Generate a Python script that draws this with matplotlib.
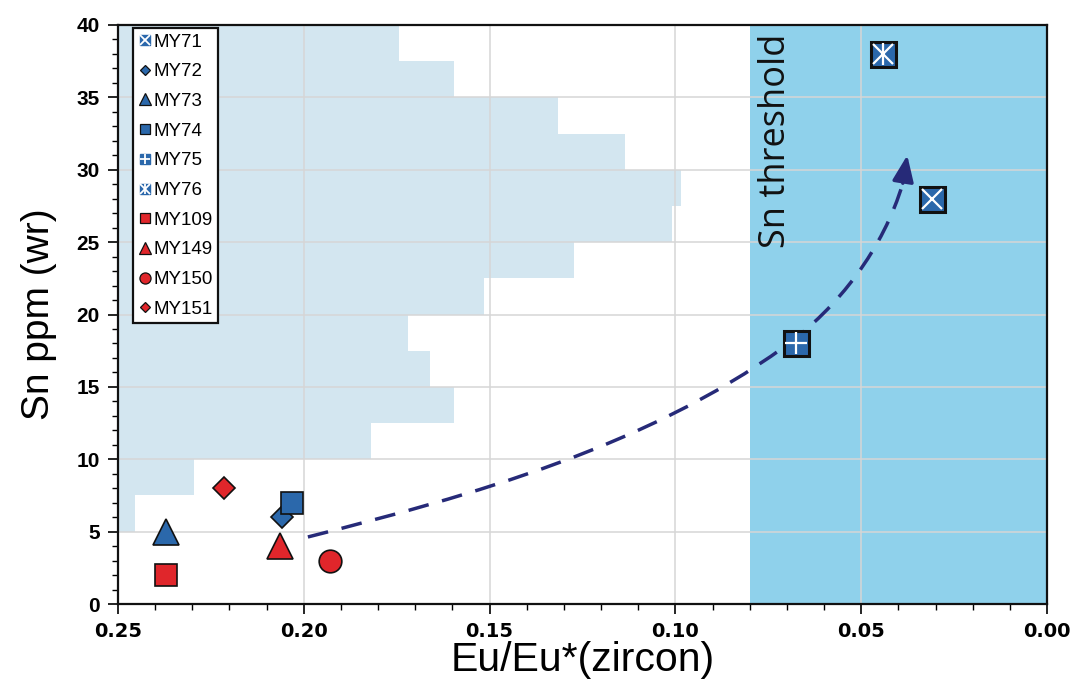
import numpy as np
import matplotlib
matplotlib.use("Agg")
import matplotlib.pyplot as plt
from matplotlib.lines import Line2D
from matplotlib.path import Path
from matplotlib.patches import PathPatch
from matplotlib.legend_handler import HandlerTuple
from matplotlib.ticker import MultipleLocator, FormatStrFormatter

plt.rcParams['font.family'] = ['Liberation Sans', 'DejaVu Sans']

# histogram in the background (bins of 2.5 ppm, bar reaches from x=0.25 to these values)
hist_bottom = [5.0, 7.5, 10.0, 12.5, 15.0, 17.5, 20.0, 22.5, 25.0, 27.5, 30.0, 32.5, 35.0, 37.5]
hist_reach = [0.2454, 0.2296, 0.1819, 0.1596, 0.166, 0.1719, 0.1516, 0.1273, 0.1009, 0.0986,
              0.1135, 0.1316, 0.1597, 0.1744]
bin_h = 2.5

threshold = 0.08

# samples
names = ['MY71', 'MY72', 'MY73', 'MY74', 'MY75', 'MY76', 'MY109', 'MY149', 'MY150', 'MY151']
eu = [0.031, 0.2059, 0.237, 0.2032, 0.0675, 0.0442, 0.237, 0.2065, 0.193, 0.2215]
sn = [28, 6, 5, 7, 18, 38, 2, 4, 3, 8]
group = ['blue', 'blue', 'blue', 'blue', 'blue', 'blue', 'red', 'red', 'red', 'red']
shape = ['sx', 'D', '^', 's', 's+', 's*', 's', '^', 'o', 'D']

# dashed trend curve: two cubic bezier pieces (control points)
curve_pts = [(0.1989, 4.63), (0.1545, 7.53), (0.1078, 10.86), (0.0708, 17.75),
             (0.0560, 20.5), (0.0440, 24.57), (0.0388, 29.07)]
arrow_tip = (0.0376, 31.0)

col = {'blue': '#2b68ab', 'red': '#e0262b'}
navy = '#262a78'

fig = plt.figure(figsize=(10.71, 6.88), dpi=100)
ax = fig.add_axes([118/1071, 84/688, 929/1071, 579/688])

# background
ax.barh(hist_bottom, [0.25 - r for r in hist_reach], left=hist_reach, height=bin_h,
        align='edge', color='#d3e6f0', linewidth=0, zorder=0.2)
ax.axvspan(threshold, 0.0, color='#8fd1eb', linewidth=0, zorder=0.3)
ax.set_axisbelow(True)
ax.grid(True, color='#d6d6d6', linewidth=1.1)

ax.text(0.0728, 39.4, 'Sn threshold', rotation=90, ha='center', va='top',
        fontsize=26, family=['Open Sans', 'DejaVu Sans'], color='#111111', zorder=2)

# curve with arrow
codes = [Path.MOVETO] + [Path.CURVE4] * 6
ax.add_patch(PathPatch(Path(curve_pts, codes), fill=False, edgecolor=navy, lw=2.5,
                       linestyle=(0, (6, 4)), capstyle='butt', zorder=2.5))
ax.annotate('', xy=arrow_tip, xytext=curve_pts[-1],
            arrowprops=dict(arrowstyle='-|>,head_length=1.6,head_width=0.65',
                            color=navy, lw=2.5, shrinkA=0, shrinkB=0), zorder=2.6)

handles = []
for n, x, y, g, s in zip(names, eu, sn, group, shape):
    c = col[g]
    if len(s) == 2:
        # boxed samples: square with a white cross pattern on top
        ax.plot(x, y, 's', ms=18, mfc=c, mec='#111111', mew=2.2, zorder=4)
        if s[1] in 'x*':
            ax.plot(x, y, 'x', ms=14.5, mec='white', mew=1.6, zorder=5)
        if s[1] == '*':
            ax.plot(x, y, '|', ms=16, mec='white', mew=1.6, zorder=5)
        if s[1] == '+':
            ax.plot(x, y, '+', ms=16, mec='white', mew=1.6, zorder=5)
        base = Line2D([], [], marker='s', ls='', ms=7.5, mfc=c, mec=c)
        over = [Line2D([], [], marker='x' if s[1] != '+' else '+', ls='', ms=6.5,
                       mec='white', mew=1.3)]
        if s[1] == '*':
            over.append(Line2D([], [], marker='|', ls='', ms=7, mec='white', mew=1.3))
        handles.append(tuple([base] + over))
    else:
        ms = {'s': 16.3, 'D': 11.4, '^': 19, 'o': 16.3}[s]
        ax.plot(x, y, s, ms=ms, mfc=c, mec='#111111', mew=1.2, zorder=4)
        lms = {'s': 7.5, 'D': 5.5, '^': 9, 'o': 8}[s]
        handles.append(Line2D([], [], marker=s, ls='', ms=lms, mfc=c, mec='#111111', mew=0.9))

leg = ax.legend(handles, names, loc='upper left', bbox_to_anchor=(0.016, 0.995),
                borderaxespad=0, fontsize=13.5, handlelength=0.7, handletextpad=0.1,
                labelspacing=0.67, borderpad=0.3, fancybox=False, framealpha=1,
                edgecolor='#111111', handler_map={tuple: HandlerTuple(ndivide=1)})
leg.get_frame().set_linewidth(1.6)
leg.set_zorder(6)

ax.set_xlim(0.25, 0.0)
ax.set_ylim(0, 40)
ax.xaxis.set_major_locator(MultipleLocator(0.05))
ax.xaxis.set_minor_locator(MultipleLocator(0.01))
ax.yaxis.set_major_locator(MultipleLocator(5))
ax.yaxis.set_minor_locator(MultipleLocator(1))
ax.xaxis.set_major_formatter(FormatStrFormatter('%.2f'))
ax.tick_params(which='major', direction='out', length=7, width=1.2, labelsize=14, pad=6)
ax.tick_params(which='minor', direction='out', length=4, width=1.0)
for lab in ax.get_xticklabels():
    lab.set_fontweight('bold')
    lab.set_family(['DejaVu Sans'])
for lab in ax.get_yticklabels():
    lab.set_fontweight('bold')
    lab.set_fontsize(15)
for sp in ax.spines.values():
    sp.set_linewidth(1.6)
    sp.set_color('#111111')

ax.set_xlabel('Eu/Eu*(zircon)', fontsize=29.5, labelpad=0)
ax.set_ylabel('Sn ppm (wr)', fontsize=28, labelpad=14)

fig.savefig('out.png', dpi=100)
